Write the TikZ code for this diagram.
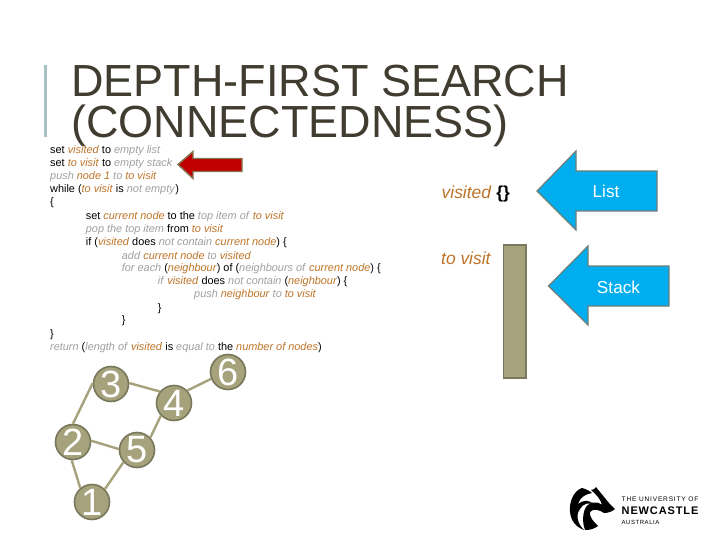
\documentclass[tikz,border=0pt]{standalone}
\usepackage{fontspec}
\setmainfont{Liberation Sans}
\newfontfamily\titlefont{Liberation Sans}
\definecolor{titlec}{HTML}{403C30}
\definecolor{barc}{HTML}{A6C0C6}
\definecolor{grayt}{HTML}{A0A0A0}
\definecolor{oranget}{HTML}{BE7428}
\definecolor{olive}{HTML}{A5A27C}
\definecolor{oliveb}{HTML}{78785C}
\definecolor{bluef}{HTML}{00AEEF}
\definecolor{blueb}{HTML}{6F7F78}
\definecolor{redf}{HTML}{C00000}
\definecolor{redb}{HTML}{857450}
\newcommand{\vr}[1]{\textcolor{oranget}{\textit{#1}}}
\newcommand{\gr}[1]{\textcolor{grayt}{\textit{#1}}}
\tikzset{x=1pt,y=-1pt,
  codeline/.style={anchor=base west,inner sep=0pt,font=\fontsize{10.9}{12}\selectfont,text=black},
  titleline/.style={anchor=base west,inner sep=0pt,font=\titlefont\fontsize{45}{46}\selectfont,text=titlec},
  gnode/.style={circle,draw=oliveb,fill=olive,line width=1.6pt,minimum size=35pt,inner sep=0pt,text=white,font=\fontsize{38}{38}\selectfont},
  gedge/.style={draw=olive,line width=2.4pt},
  bluearrow/.style={draw=blueb,fill=bluef,line width=1.2pt},
  sidelabel/.style={anchor=base west,inner sep=0pt,font=\fontsize{17.4}{20}\selectfont},
  arrowlabel/.style={inner sep=0pt,text=white,font=\fontsize{17.2}{20}\selectfont},
  logotext/.style={anchor=base west,inner sep=0pt,text=black}}
\begin{document}
\begin{tikzpicture}
\useasboundingbox (0,0) rectangle (720,540);
\fill[white] (0,0) rectangle (720,540);
% title
\fill[barc] (44,65) rectangle (47,137);
\node[titleline] (t1) at (71,97) {DEPTH-FIRST SEARCH};
\node[titleline] (t2) at (71,138) {(CONNECTEDNESS)};
% code
\node[codeline] (c1) at (50,153.7) {set \vr{visited} to \gr{empty list}};
\node[codeline] (c2) at (50,166.7) {set \vr{to visit} to \gr{empty stack}};
\node[codeline] (c3) at (50,179.3) {\gr{push} \vr{node 1} \gr{to} \vr{to visit}};
\node[codeline] (c4) at (50,192.7) {while (\vr{to visit} is \gr{not empty})};
\node[codeline] (c5) at (50,206) {\{};
\node[codeline] (c6) at (85.7,220) {set \vr{current node} to the \gr{top item of} \vr{to visit}};
\node[codeline] (c7) at (85.7,232.7) {\gr{pop the top item} from \vr{to visit}};
\node[codeline] (c8) at (85.7,245.7) {if (\vr{visited} does \gr{not contain} \vr{current node}) \{};
\node[codeline] (c9) at (121.7,259) {\gr{add} \vr{current node} \gr{to} \vr{visited}};
\node[codeline] (c10) at (121.7,271.7) {\gr{for each} (\vr{neighbour}) of (\gr{neighbours of} \vr{current node}) \{};
\node[codeline] (c11) at (157.7,284.7) {\gr{if} \vr{visited} does \gr{not contain} (\vr{neighbour}) \{};
\node[codeline] (c12) at (194,297.3) {\gr{push} \vr{neighbour} \gr{to} \vr{to visit}};
\node[codeline] (c13) at (157.7,311) {\}};
\node[codeline] (c14) at (121.7,323) {\}};
\node[codeline] (c15) at (50,337) {\}};
\node[codeline] (c16) at (50,350.7) {\gr{return} (\gr{length of} \vr{visited} is \gr{equal to} the \vr{number of nodes})};
% red arrow
\draw[draw=redb,fill=redf,line width=1.4pt,line join=miter]
  (178,164.5) -- (193,151.5) -- (193,158.5) -- (242,158.5) -- (242,171.5) -- (193,171.5) -- (193,178.5) -- cycle;
% graph
\node[gnode] (n3) at (111,384) {3};
\node[gnode] (n4) at (174,403) {4};
\node[gnode] (n6) at (228,372) {6};
\node[gnode] (n2) at (73,442) {2};
\node[gnode] (n5) at (137,450) {5};
\node[gnode] (n1) at (92,502) {1};
\draw[gedge] (n3.177) -- (n2.90);
\draw[gedge] (n3.3) -- (n4.141);
\draw[gedge] (n4.43) -- (n6.202);
\draw[gedge] (n4.224) -- (n5.43);
\draw[gedge] (n2.4) -- (n5.177);
\draw[gedge] (n2.266) -- (n1.130);
\draw[gedge] (n1.45) -- (n5.222);
% side
\node[sidelabel] (vis) at (441.5,199) {\vr{visited} \textbf{\{\}}};
\node[sidelabel] (tov) at (441,264) {\vr{to visit}};
\draw[draw=oliveb,fill=olive,line width=1.3pt] (503.5,245) rectangle (526,378);
\draw[bluearrow] (537,191) -- (576,151) -- (576,171) -- (657,171) -- (657,211) -- (576,211) -- (576,230) -- cycle;
\draw[bluearrow] (548.5,286) -- (588,246) -- (588,266) -- (669,266) -- (669,306) -- (588,306) -- (588,325) -- cycle;
\node[arrowlabel] (la) at (606,191) {List};
\node[arrowlabel] (lb) at (618.5,287) {Stack};
% logo
\fill[black] (582,488) .. controls (573,491) and (569,503) .. (570,512)
  .. controls (571,521) and (576,527) .. (584,530)
  .. controls (578,524) and (575,516) .. (580,509)
  .. controls (583,503) and (590,502) .. (594,505)
  .. controls (589,499) and (583,500) .. (578,504)
  .. controls (580,497) and (586,494) .. (592,493)
  .. controls (590,491) and (586,489) .. (582,488) -- cycle;
\fill[black] (585,530) .. controls (590,530) and (594,529) .. (598,526)
  .. controls (594,522) and (589,517) .. (590,512)
  .. controls (593,508) and (600,510) .. (604,513)
  .. controls (607,513) and (612,512) .. (615,509)
  .. controls (610,505) and (605,498) .. (600,492)
  .. controls (598,490) and (597,488) .. (596,487)
  .. controls (595,489) and (593,490) .. (591,490)
  .. controls (597,495) and (601,500) .. (602,505)
  .. controls (596,500) and (588,502) .. (585,509)
  .. controls (582,516) and (583,525) .. (585,530) -- cycle;
\node[logotext,font=\fontsize{6.6}{8}\selectfont\addfontfeature{LetterSpace=12}] (lg1) at (621.5,501.5) {THE UNIVERSITY OF};
\node[logotext,font=\bfseries\fontsize{11}{13}\selectfont\addfontfeature{LetterSpace=8}] (lg2) at (621.5,514.5) {NEWCASTLE};
\node[logotext,font=\fontsize{6}{8}\selectfont\addfontfeature{LetterSpace=9}] (lg3) at (621.5,524.5) {AUSTRALIA};
\end{tikzpicture}
\end{document}
